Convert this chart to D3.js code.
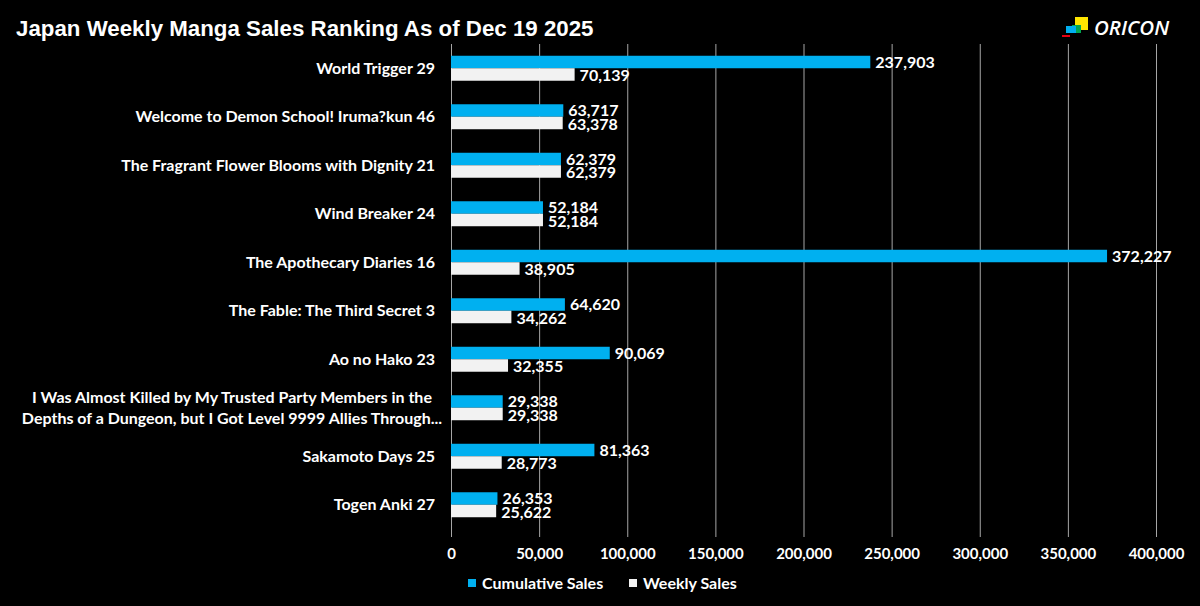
<!DOCTYPE html>
<html>
<head>
<meta charset="utf-8">
<script src="https://cdn.jsdelivr.net/npm/d3@7"></script>
<style>
  body { margin: 0; background: #000; }
  svg { display: block; }
  .tick text { font-family: Lato, "Open Sans", sans-serif; font-weight: bold; font-size: 15px; fill: #fff; }
</style>
</head>
<body>
<div id="chart"></div>
<script>
var width = 1200;
var height = 606;

// chart data
var titles = [
    "World Trigger 29",
    "Welcome to Demon School! Iruma?kun 46",
    "The Fragrant Flower Blooms with Dignity 21",
    "Wind Breaker 24",
    "The Apothecary Diaries 16",
    "The Fable: The Third Secret 3",
    "Ao no Hako 23",
    "I Was Almost Killed by My Trusted Party Members in the|Depths of a Dungeon, but I Got Level 9999 Allies Through...",
    "Sakamoto Days 25",
    "Togen Anki 27"
];
var cumulativeSales = [237903, 63717, 62379, 52184, 372227, 64620, 90069, 29338, 81363, 26353];
var weeklySales = [70139, 63378, 62379, 52184, 38905, 34262, 32355, 29338, 28773, 25622];
var seriesNames = ["Cumulative Sales", "Weekly Sales"];
var seriesColors = ["#00b0f0", "#f2f2f2"];
var xTicks = [0, 50000, 100000, 150000, 200000, 250000, 300000, 350000, 400000];

var rows = titles.map(function(t, i) {
    return { title: t, values: [cumulativeSales[i], weeklySales[i]] };
});

var svg = d3.select("#chart")
    .append("svg")
    .attr("width", width)
    .attr("height", height);

svg.append("rect").attr("width", width).attr("height", height).attr("fill", "#000");

// Title
svg.append("text")
    .attr("x", 16)
    .attr("y", 36)
    .attr("fill", "#fff")
    .style("font-family", "'Liberation Sans', Arial, sans-serif")
    .style("font-weight", "bold")
    .style("font-size", "22.3px")
    .text("Japan Weekly Manga Sales Ranking As of Dec 19 2025");

// ORICON logo
var logo = svg.append("g");
logo.append("rect").attr("x", 1075).attr("y", 17).attr("width", 13).attr("height", 13).attr("fill", "#ffe600");
logo.append("rect").attr("x", 1072).attr("y", 25).attr("width", 9).attr("height", 8).attr("fill", "#00a650");
logo.append("rect").attr("x", 1066).attr("y", 26).attr("width", 10).attr("height", 7).attr("fill", "#00aeef");
logo.append("rect").attr("x", 1062).attr("y", 35).attr("width", 8).attr("height", 2).attr("fill", "#e60012");
logo.append("text")
    .attr("x", 1094).attr("y", 35)
    .attr("fill", "#fff")
    .style("font-family", "'Open Sans', sans-serif")
    .style("font-weight", "600")
    .style("font-style", "italic")
    .style("font-size", "20.5px")
    .text("ORICON");

// Scales
var x = d3.scaleLinear().domain([0, 400000]).range([451, 1156]);
var y = d3.scaleBand().domain(d3.range(titles.length)).range([44, 529]).paddingInner(0.485).paddingOuter(0.2425);
var ySeries = d3.scaleBand().domain([0, 1]).range([0, y.bandwidth()]);

// Grid + x axis
var xAxis = d3.axisBottom(x)
    .tickValues(xTicks)
    .tickSize(-(537 - 44))
    .tickPadding(11)
    .tickFormat(d3.format(","));

var axisG = svg.append("g")
    .attr("transform", "translate(0," + 537 + ")")
    .call(xAxis);
axisG.select(".domain").remove();
axisG.selectAll(".tick line").attr("stroke", "#a6a6a6").attr("stroke-width", 1);

// Category labels
var labelG = svg.append("g")
    .style("font-family", "Lato, 'Open Sans', sans-serif")
    .style("font-weight", "bold")
    .style("font-size", "16px")
    .attr("fill", "#fff");

rows.forEach(function(d, i) {
    var cy = y(i) + y.bandwidth() / 2;
    var lines = d.title.split("|");
    if (lines.length === 1) {
        labelG.append("text")
            .attr("x", 435)
            .attr("y", cy)
            .attr("dy", "0.35em")
            .attr("text-anchor", "end")
            .text(lines[0]);
    } else {
        lines.forEach(function(l, k) {
            labelG.append("text")
                .attr("x", 232)
                .attr("y", cy + (k - 0.5) * 21)
                .attr("dy", "0.35em")
                .attr("text-anchor", "middle")
                .text(l);
        });
    }
});

// Bars
var groups = svg.selectAll(".group")
    .data(rows)
    .enter()
    .append("g")
    .attr("class", "group")
    .attr("transform", function(d, i) { return "translate(0," + y(i) + ")"; });

groups.selectAll("rect")
    .data(function(d) { return d.values; })
    .enter()
    .append("rect")
    .attr("x", x(0))
    .attr("y", function(v, k) { return ySeries(k); })
    .attr("width", function(v) { return x(v) - x(0); })
    .attr("height", ySeries.bandwidth())
    .attr("fill", function(v, k) { return seriesColors[k]; });

groups.selectAll("text")
    .data(function(d) { return d.values; })
    .enter()
    .append("text")
    .attr("x", function(v) { return x(v) + 5; })
    .attr("y", function(v, k) { return ySeries(k) + ySeries.bandwidth() / 2 + (k === 0 ? 0 : 1); })
    .attr("dy", "0.35em")
    .attr("fill", "#fff")
    .style("font-family", "Lato, 'Open Sans', sans-serif")
    .style("font-weight", "bold")
    .style("font-size", "16px")
    .text(function(v) { return d3.format(",")(v); });

// Legend
var legendX = [468, 629];
var legend = svg.selectAll(".legend")
    .data(seriesNames)
    .enter()
    .append("g")
    .attr("class", "legend")
    .attr("transform", function(d, i) { return "translate(" + legendX[i] + ",583)"; });

legend.append("rect")
    .attr("x", 0).attr("y", -4)
    .attr("width", 8).attr("height", 8)
    .attr("fill", function(d, i) { return seriesColors[i]; });

legend.append("text")
    .attr("x", 14)
    .attr("y", 0)
    .attr("dy", "0.35em")
    .attr("fill", "#fff")
    .style("font-family", "Lato, 'Open Sans', sans-serif")
    .style("font-weight", "bold")
    .style("font-size", "16px")
    .text(function(d) { return d; });
</script>
</body>
</html>
